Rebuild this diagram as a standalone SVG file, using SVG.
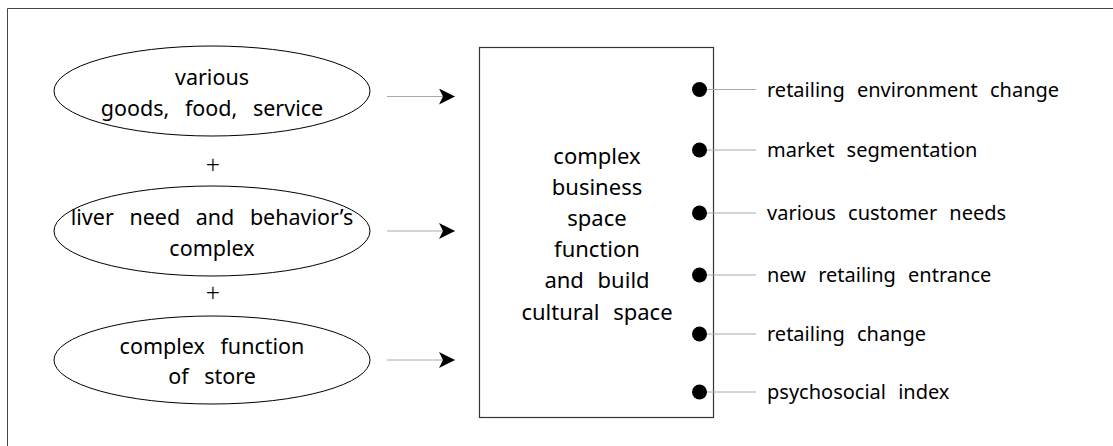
<svg xmlns="http://www.w3.org/2000/svg" width="1113" height="446" viewBox="0 0 1113 446">
<defs>
<marker id="ah" viewBox="0 0 16 16" refX="16" refY="8" markerWidth="16" markerHeight="16" markerUnits="userSpaceOnUse" orient="auto">
<path d="M0,0 L16,8 L0,16 L4,8 Z" fill="#000"/>
</marker>
</defs>
<style>
text{font-family:"Noto Sans","Open Sans",sans-serif;fill:#000;}
.t{font-size:21.5px;text-anchor:middle;word-spacing:10px;}
.p{font-size:25px;text-anchor:middle;font-weight:300;}
.b{font-size:22px;text-anchor:middle;word-spacing:8px;}
.l{font-size:20px;word-spacing:7px;}
.ell{fill:#fff;stroke:#000;stroke-width:1;}
.box{fill:#fff;stroke:#333;stroke-width:1.2;}
.con{stroke:#aaa;stroke-width:1;fill:none;}
.dot{fill:#000;}
</style>
<rect width="1113" height="446" fill="#fff"/>
<path d="M7.5,446 V8.5 H1113" fill="none" stroke="#444" stroke-width="1"/>
<g id="n1"><ellipse class="ell" cx="212" cy="91" rx="158" ry="45"/>
<text class="t" x="212" y="85">various</text><text class="t" x="212" y="116">goods, food, service</text></g>
<g id="plus1"><text class="p" x="213" y="174">+</text></g>
<g id="n2"><ellipse class="ell" cx="212" cy="231" rx="158" ry="45"/>
<text class="t" x="212" y="225">liver need and behavior’s</text><text class="t" x="212" y="256">complex</text></g>
<g id="plus2"><text class="p" x="213" y="302">+</text></g>
<g id="n3"><ellipse class="ell" cx="212" cy="360" rx="158" ry="44"/>
<text class="t" x="212" y="354">complex function</text><text class="t" x="212" y="384">of store</text></g>
<g id="center"><rect class="box" x="479.5" y="47.5" width="234" height="370"/>
<text class="b" x="597" y="164">complex</text>
<text class="b" x="597" y="195">business</text>
<text class="b" x="597" y="226">space</text>
<text class="b" x="597" y="257">function</text>
<text class="b" x="597" y="288">and build</text>
<text class="b" x="597" y="320">cultural space</text></g>
<g id="connectors">
<line class="con" x1="387" y1="96.5" x2="455" y2="96.5" marker-end="url(#ah)"/>
<line class="con" x1="387" y1="231" x2="455" y2="231" marker-end="url(#ah)"/>
<line class="con" x1="387" y1="360" x2="455" y2="360" marker-end="url(#ah)"/>
<line class="con" x1="699" y1="89.5" x2="756" y2="89.5"/>
<line class="con" x1="699" y1="150" x2="756" y2="150"/>
<line class="con" x1="699" y1="213" x2="756" y2="213"/>
<line class="con" x1="699" y1="275" x2="756" y2="275"/>
<line class="con" x1="699" y1="334" x2="756" y2="334"/>
<line class="con" x1="699" y1="392" x2="756" y2="392"/>
<circle class="dot" cx="699.5" cy="89.5" r="7.5"/>
<circle class="dot" cx="699.5" cy="150" r="7.5"/>
<circle class="dot" cx="699.5" cy="213" r="7.5"/>
<circle class="dot" cx="699.5" cy="275" r="7.5"/>
<circle class="dot" cx="699.5" cy="334" r="7.5"/>
<circle class="dot" cx="699.5" cy="392" r="7.5"/>
</g>
<g id="labels">
<text class="l" x="767" y="97">retailing environment change</text>
<text class="l" x="767" y="157">market segmentation</text>
<text class="l" x="767" y="220">various customer needs</text>
<text class="l" x="767" y="282">new retailing entrance</text>
<text class="l" x="767" y="341">retailing change</text>
<text class="l" x="767" y="399">psychosocial index</text>
</g>
</svg>
